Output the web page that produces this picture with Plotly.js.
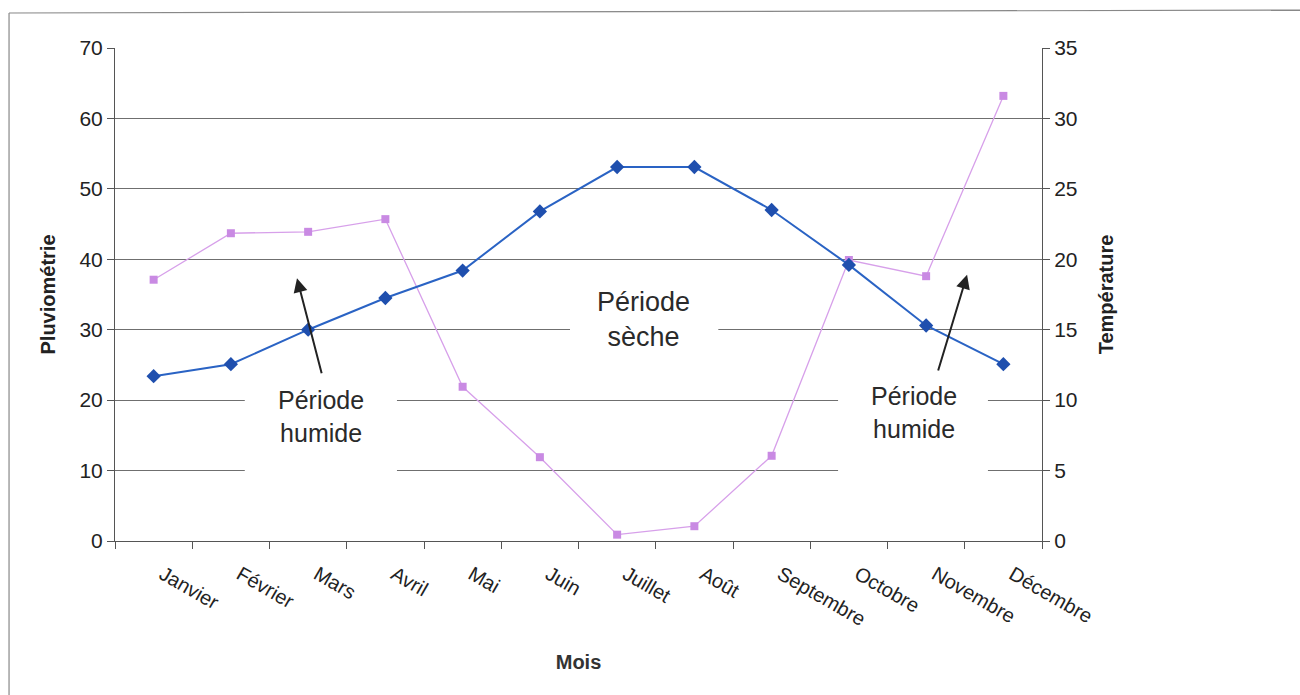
<!DOCTYPE html>
<html>
<head>
<meta charset="utf-8">
<script src="https://cdn.plot.ly/plotly-3.0.1.min.js"></script>
<style>html,body{margin:0;padding:0;background:#fff;}#chart{width:1300px;height:695px;}</style>
</head>
<body>
<div id="chart"></div>
<script>
const mois = ["Janvier","Février","Mars","Avril","Mai","Juin","Juillet","Août","Septembre","Octobre","Novembre","Décembre"];
const pluviometrie = [37.1, 43.7, 43.9, 45.7, 21.9, 11.9, 0.9, 2.1, 12.1, 39.9, 37.6, 63.2];
const temperature = [11.7, 12.55, 15.0, 17.25, 19.2, 23.4, 26.55, 26.55, 23.5, 19.6, 15.3, 12.55];
const leftTicks = [0,10,20,30,40,50,60,70];
const rightTicks = [0,5,10,15,20,25,30,35];

const font = "Liberation Sans, Arial, sans-serif";
const grid = "#6f6f6f";

const traces = [
  {x: mois, y: pluviometrie, type: "scatter", mode: "lines+markers", yaxis: "y",
   line: {color: "#d7a0ea", width: 1.3},
   marker: {symbol: "square", size: 8, color: "#c98ae3"}, cliponaxis: false},
  {x: mois, y: temperature, type: "scatter", mode: "lines+markers", yaxis: "y2",
   line: {color: "#2a63c4", width: 2},
   marker: {symbol: "diamond", size: 11, color: "#1f4fae"}, cliponaxis: false}
];

const layout = {
  width: 1300, height: 695,
  margin: {l: 115, r: 258, t: 48, b: 154},
  paper_bgcolor: "#fff", plot_bgcolor: "#fff",
  showlegend: false,
  font: {family: font, color: "#222", size: 20},
  xaxis: {
    type: "category", tickson: "boundaries", ticks: "outside", ticklen: 7, tickcolor: "#555",
    showline: true, linecolor: "#555", linewidth: 1, showgrid: false, zeroline: false,
    tickangle: 30, tickfont: {size: 20, family: font, color: "#222"},
    ticklabelshift: 9, ticklabelstandoff: 13,
    title: {text: "<b>Mois</b>", font: {size: 20, family: font, color: "#333"}, standoff: 25},
    range: [-0.5, 11.5]
  },
  yaxis: {
    range: [0, 70], tickvals: leftTicks, ticks: "outside", ticklen: 7, tickcolor: "#555",
    showline: true, linecolor: "#555", linewidth: 1, showgrid: true, gridcolor: grid, gridwidth: 1,
    zeroline: false, tickfont: {size: 21, family: font, color: "#222"},
    title: {text: "<b>Pluviométrie</b>", font: {size: 20, family: font, color: "#222"}, standoff: 18}
  },
  yaxis2: {
    range: [0, 35], tickvals: rightTicks, overlaying: "y", side: "right",
    ticks: "outside", ticklen: 7, tickcolor: "#555",
    showline: true, linecolor: "#555", linewidth: 1, showgrid: false, zeroline: false,
    tickfont: {size: 21, family: font, color: "#222"},
    title: {text: "<b>Température</b>", font: {size: 20, family: font, color: "#222"}, standoff: 22}
  },
  shapes: [
    {type: "rect", xref: "x", yref: "y", x0: 1.18, x1: 3.15, y0: 6, y1: 24, layer: "between", fillcolor: "#fff", line: {width: 0}},
    {type: "rect", xref: "x", yref: "y", x0: 5.39, x1: 7.31, y0: 26, y1: 37, layer: "between", fillcolor: "#fff", line: {width: 0}},
    {type: "rect", xref: "x", yref: "y", x0: 8.86, x1: 10.8, y0: 6, y1: 24, layer: "between", fillcolor: "#fff", line: {width: 0}},
    {type: "line", xref: "paper", yref: "paper", x0: -0.1143, x1: -0.1143, y0: 1.071, y1: -0.32, line: {color: "#888", width: 1.2}},
    {type: "line", xref: "paper", yref: "paper", x0: -0.1143, x1: 1.3, y0: 1.071, y1: 1.077, line: {color: "#888", width: 1.2}}
  ],
  annotations: [
    {xref: "x", yref: "y", x: 6.335, y: 31.4, text: "Période<br>sèche", showarrow: false,
     font: {size: 27, family: font, color: "#2a2a2a"}},
    {xref: "x", yref: "y", x: 2.17, y: 17.7, text: "Période<br>humide", showarrow: false,
     font: {size: 25, family: font, color: "#2a2a2a"}},
    {xref: "x", yref: "y", x: 9.84, y: 18.2, text: "Période<br>humide", showarrow: false,
     font: {size: 25, family: font, color: "#2a2a2a"}},
    {xref: "x", yref: "y", x: 1.856, y: 37.3, axref: "x", ayref: "y", ax: 2.18, ay: 23.6, text: "",
     showarrow: true, arrowhead: 2, arrowsize: 1.4, arrowwidth: 2, arrowcolor: "#222"},
    {xref: "x", yref: "y", x: 10.53, y: 37.8, axref: "x", ayref: "y", ax: 10.15, ay: 24.0, text: "",
     showarrow: true, arrowhead: 2, arrowsize: 1.4, arrowwidth: 2, arrowcolor: "#222"}
  ]
};

Plotly.newPlot("chart", traces, layout, {staticPlot: true, displayModeBar: false});
</script>
</body>
</html>
